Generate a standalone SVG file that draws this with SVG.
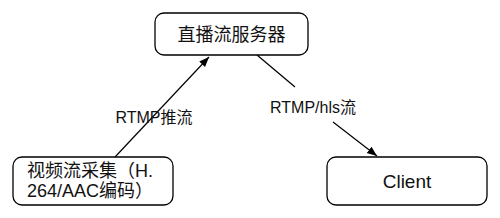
<svg xmlns="http://www.w3.org/2000/svg" width="500" height="218" viewBox="0 0 500 218">
<defs>
<style>
.box{fill:#fff;stroke:#000;stroke-width:1.3}
.t{font-family:"Liberation Sans","Noto Sans CJK SC",Arial,sans-serif;fill:#111}
.n{font-size:18px}
.l{font-size:16px}
.c{stroke:#000;stroke-width:1.2;fill:none}
</style>
<marker id="ah" viewBox="0 0 10 10" refX="10" refY="5" markerWidth="10" markerHeight="10" markerUnits="userSpaceOnUse" orient="auto">
<path d="M0,1 L10,5 L0,9 Z" fill="#000"/>
</marker>
</defs>
<rect width="500" height="218" fill="#fff"/>
<g id="connectors">
<line class="c" x1="115" y1="157" x2="209" y2="57" marker-end="url(#ah)"/>
<text class="t l" x="154" y="123" text-anchor="middle">RTMP推流</text>
<line class="c" x1="257" y1="55" x2="295" y2="87"/>
<line class="c" x1="333" y1="122" x2="377" y2="156" marker-end="url(#ah)"/>
<text class="t l" x="313" y="113" text-anchor="middle">RTMP/hls流</text>
</g>
<g id="server">
<rect class="box" x="155" y="13" width="153" height="42" rx="9"/>
<text class="t n" x="231.5" y="41" text-anchor="middle">直播流服务器</text>
</g>
<g id="capture">
<rect class="box" x="13" y="157" width="160" height="48" rx="9"/>
<text class="t n" x="27" y="177">视频流采集（H.</text>
<text class="t n" x="27" y="197">264/AAC编码）</text>
</g>
<g id="client">
<rect class="box" x="327" y="157" width="160" height="48" rx="9"/>
<text class="t" x="407" y="188" text-anchor="middle" font-size="19">Client</text>
</g>
</svg>
